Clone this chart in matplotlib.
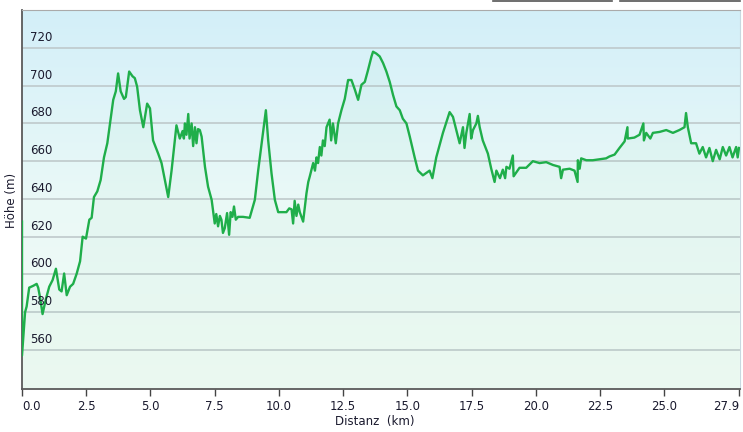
import numpy as np
import matplotlib.pyplot as plt
from matplotlib.colors import LinearSegmentedColormap

# elevation profile (km, m)
dist_km = [0.0, 0.0, 0.12, 0.18, 0.28, 0.44, 0.57, 0.63, 0.70, 0.80, 0.93,
           1.06, 1.19, 1.32, 1.45, 1.54, 1.64, 1.74, 1.87, 1.99, 2.13, 2.26,
           2.36, 2.49, 2.62, 2.71, 2.80, 2.93, 3.06, 3.19, 3.32, 3.45, 3.55,
           3.65, 3.74, 3.84, 3.97, 4.04, 4.17, 4.30, 4.39, 4.48, 4.59, 4.72,
           4.87, 4.98, 5.10, 5.30, 5.43, 5.56, 5.69, 5.82, 6.01, 6.14, 6.25,
           6.30, 6.34, 6.40, 6.47, 6.52, 6.60, 6.66, 6.73, 6.79, 6.85, 6.92,
           6.99, 7.12, 7.24, 7.38, 7.50, 7.56, 7.63, 7.70, 7.76, 7.82, 7.89,
           7.98, 8.06, 8.12, 8.19, 8.25, 8.32, 8.41, 8.60, 8.86, 9.06, 9.19,
           9.36, 9.49, 9.58, 9.71, 9.84, 9.97, 10.29, 10.40, 10.49, 10.55,
           10.61, 10.68, 10.75, 10.81, 10.94, 11.07, 11.14, 11.20, 11.33,
           11.40, 11.46, 11.52, 11.59, 11.65, 11.71, 11.78, 11.85, 11.97,
           12.03, 12.10, 12.21, 12.30, 12.43, 12.56, 12.69, 12.82, 12.95,
           13.08, 13.21, 13.34, 13.46, 13.60, 13.66, 13.79, 13.92, 14.05,
           14.18, 14.31, 14.44, 14.57, 14.70, 14.82, 14.96, 15.09, 15.28,
           15.41, 15.60, 15.86, 15.97, 16.12, 16.38, 16.64, 16.77, 16.90,
           17.03, 17.16, 17.22, 17.29, 17.42, 17.48, 17.55, 17.68, 17.74,
           17.81, 17.93, 18.13, 18.26, 18.39, 18.46, 18.60, 18.71, 18.80,
           18.85, 18.97, 19.10, 19.13, 19.36, 19.62, 19.88, 20.14, 20.40,
           20.66, 20.92, 20.98, 21.05, 21.31, 21.50, 21.62, 21.63, 21.70,
           21.76, 21.96, 22.21, 22.47, 22.73, 22.86, 23.06, 23.25, 23.45,
           23.56, 23.57, 23.83, 24.03, 24.18, 24.20, 24.29, 24.45, 24.55,
           24.81, 25.07, 25.33, 25.58, 25.78, 25.84, 25.91, 26.04, 26.23,
           26.36, 26.49, 26.62, 26.75, 26.88, 27.01, 27.15, 27.27, 27.40,
           27.53, 27.65, 27.79, 27.85, 27.9]
hoehe_m = [628, 557, 580, 583, 593, 594, 595, 593, 588, 579, 587,
           593.5, 597, 603, 592, 591, 600.5, 589, 593.5, 595, 600.5, 607,
           620, 619, 629, 630, 641, 644, 650, 662, 669.5, 682.5, 692.5,
           697, 706.5, 697, 693, 694, 707.5, 705, 704, 699.5, 687, 678,
           690.5, 688, 671, 664, 659, 650, 641, 655, 679, 672, 676,
           672, 680, 674, 685, 672, 680, 668, 678, 669.5, 677, 676.5,
           673, 657, 646.5, 639.5, 627, 632, 625.5, 631, 629, 622, 624.5,
           632.5, 621, 633, 630.5, 636, 629, 630.5, 630.5, 630, 639.5, 655,
           673, 687, 671, 653.5, 639.5, 633, 633, 635, 634.5, 627,
           639, 631, 637, 633, 628, 643, 649, 652, 659,
           655, 662, 659, 667.5, 663, 671, 668, 678, 682,
           671, 680, 669.5, 680, 687, 693, 703, 703, 698,
           692.5, 700.5, 702, 708, 715.5, 718, 717, 715.5, 712,
           707.5, 702, 695, 689, 687, 682.5, 680, 673, 662,
           655, 652.5, 655, 651, 662, 675, 686, 683.5, 676.5,
           669.5, 678, 667, 675, 685, 672, 676.5, 680, 684,
           678, 671, 664, 656, 649, 655, 651, 655.5, 651,
           657, 656, 663, 652, 656.5, 656.5, 660, 659, 659.5,
           658, 657, 651, 655.5, 656, 655, 649, 660.5, 656,
           661.5, 660.5, 660.5, 661, 661.5, 662.5, 663.5, 667, 670.5,
           678, 672, 672.5, 674, 680, 671, 675, 672, 675,
           675.5, 676.5, 675, 676.5, 678, 685.5, 678, 669.5, 669.5,
           664, 667.5, 662, 667, 660, 666, 661, 667.5, 663,
           667.5, 662, 667.5, 662, 667]

x_ticks = [0.0, 2.5, 5.0, 7.5, 10.0, 12.5, 15.0, 17.5, 20.0, 22.5, 25.0, 27.9]
y_ticks = [560, 580, 600, 620, 640, 660, 680, 700, 720]

W, H = 743, 432
fig = plt.figure(figsize=(W / 100, H / 100), dpi=100)
ax = fig.add_axes([22 / W, 43 / H, 718 / W, 379 / H])

x0, x1 = 0, 27.94
y0, y1 = 539.3, 740.1
ax.set_xlim(x0, x1)
ax.set_ylim(y0, y1)

# background gradient: light blue at top, pale green-white at bottom
bg = LinearSegmentedColormap.from_list('bg', ['#f2fcf5', '#eaf9f7', '#d3eff9'])
grad = np.linspace(0, 1, 256).reshape(-1, 1)
ax.imshow(grad, cmap=bg, origin='lower', aspect='auto',
          extent=[x0, x1, y0, y1], zorder=0)

for yt in y_ticks:
    ax.axhline(yt, color='#bcc6c8', lw=1.1, zorder=1)
    ax.text(0.3, yt + 2.2, str(yt), fontsize=8.5, color='#1a1a2e',
            ha='left', va='bottom', zorder=4)

ax.fill_between(dist_km, hoehe_m, y0, color='#40c080', alpha=0.035, lw=0, zorder=2)
ax.plot(dist_km, hoehe_m, color='#1fae4a', lw=1.7, zorder=3)

ax.set_yticks([])
ax.set_xticks(x_ticks)
labels = ax.set_xticklabels([f"{t:.1f}" for t in x_ticks], fontsize=8.5, color='#1a1a2e')
labels[0].set_ha('left')
labels[-1].set_ha('right')
ax.tick_params(axis='x', direction='out', length=5, width=1, color='#444444', pad=3)

for s in ['left', 'bottom']:
    ax.spines[s].set_color('#5a5a5a')
    ax.spines[s].set_linewidth(1.3)
ax.spines['top'].set_color('#aaaaaa')
ax.spines['right'].set_color('#c8d8e0')

fig.text(12 / W, 1 - 200 / H, 'Höhe (m)', rotation=90, fontsize=8.5,
         ha='center', va='center', color='#1a1a2e')
fig.text(375 / W, 1 - 422 / H, 'Distanz  (km)', fontsize=8.5,
         ha='center', va='center', color='#1a1a2e')

# bits of the toolbar above the chart
fig.add_artist(plt.Line2D([493 / W, 612 / W], [1 - 0.8 / H] * 2, color='#555555', lw=1.2))
fig.add_artist(plt.Line2D([620 / W, 740 / W], [1 - 0.8 / H] * 2, color='#555555', lw=1.2))

fig.savefig('out.png', dpi=100)
